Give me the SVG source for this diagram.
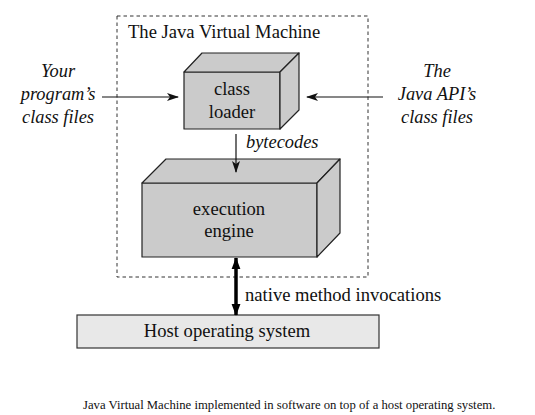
<svg xmlns="http://www.w3.org/2000/svg" width="535" height="415" viewBox="0 0 535 415">
<style>
text{font-family:"Liberation Serif","Times New Roman",serif;fill:#111;}
.t{font-size:18.6px;}
.i{font-size:18.4px;font-style:italic;}
.box{fill:#cbcbcb;stroke:#222;stroke-width:1.2;stroke-linejoin:round;}
.thin{stroke:#111;stroke-width:1.2;fill:none;}
.thick{stroke:#000;stroke-width:3.5;fill:none;}
</style>
<defs>
<marker id="ah" markerWidth="12" markerHeight="8" refX="11" refY="4" orient="auto" markerUnits="userSpaceOnUse">
<path d="M0,0 L12,4 L0,8 L3,4 Z" fill="#111"/>
</marker>
<marker id="bh" markerWidth="12" markerHeight="16" refX="15" refY="6" orient="auto-start-reverse" markerUnits="userSpaceOnUse" viewBox="0 0 16 12">
<path d="M0,0 L16,6 L0,12 Z" fill="#000"/>
</marker>
</defs>
<rect width="535" height="415" fill="#fff"/>
<g id="jvm">
<rect x="117" y="16" width="251" height="261" fill="none" stroke="#333" stroke-width="1" stroke-dasharray="3.5,3"/>
<text class="t" x="128" y="38">The Java Virtual Machine</text>
</g>
<g id="classloader">
<rect class="box" x="184" y="72" width="96" height="57"/>
<polygon class="box" points="184,72 202,53 299,53 280,72"/>
<polygon class="box" points="280,72 299,53 299,110 280,129"/>
<text class="t" x="232" y="95" text-anchor="middle">class</text>
<text class="t" x="232" y="118" text-anchor="middle">loader</text>
</g>
<g id="engine">
<rect class="box" x="142" y="183" width="175" height="74"/>
<polygon class="box" points="142,183 166,159 340,159 317,183"/>
<polygon class="box" points="317,183 340,159 340,233 317,257"/>
<text class="t" x="229" y="215" text-anchor="middle">execution</text>
<text class="t" x="229" y="237" text-anchor="middle">engine</text>
</g>
<g id="host">
<rect x="77" y="315" width="302" height="33" fill="#e8e8e8" stroke="#333" stroke-width="1.2"/>
<text class="t" x="227" y="337" text-anchor="middle">Host operating system</text>
</g>
<g id="yourfiles">
<text class="i" x="58" y="77" text-anchor="middle">Your</text>
<text class="i" x="58" y="100" text-anchor="middle">program’s</text>
<text class="i" x="58" y="123" text-anchor="middle">class files</text>
</g>
<g id="apifiles">
<text class="i" x="437" y="77" text-anchor="middle">The</text>
<text class="i" x="437" y="100" text-anchor="middle">Java API’s</text>
<text class="i" x="437" y="123" text-anchor="middle">class files</text>
</g>
<g id="connectors">
<line class="thin" x1="102" y1="97" x2="178" y2="97" marker-end="url(#ah)"/>
<line class="thin" x1="383" y1="97" x2="307" y2="97" marker-end="url(#ah)"/>
<line class="thin" x1="236" y1="134" x2="236" y2="172" marker-end="url(#ah)"/>
<text class="i" x="246" y="148">bytecodes</text>
<line class="thick" x1="236" y1="258" x2="236" y2="315" marker-start="url(#bh)" marker-end="url(#bh)"/>
<text class="t" x="245" y="301">native method invocations</text>
</g>
<text x="83" y="409" style="font-size:12.7px">Java Virtual Machine implemented in software on top of a host operating system.</text>
</svg>
